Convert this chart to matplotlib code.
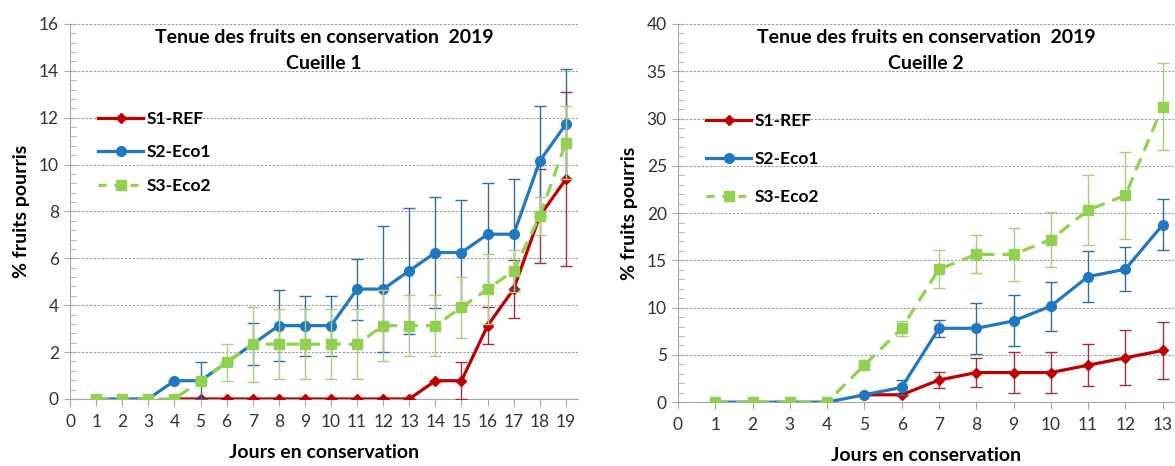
import matplotlib.pyplot as plt
import matplotlib.ticker as ticker
from matplotlib.lines import Line2D
import numpy as np

plt.rcParams['font.family'] = ['Lato', 'DejaVu Sans']

# Cueille 1
days1_s1 = list(range(4, 20))
c1_s1 = [0, 0, 0, 0, 0, 0, 0, 0, 0, 0, 0.78, 0.78, 3.13, 4.69, 7.81, 9.38]
c1_s1_err = [0, 0, 0, 0, 0, 0, 0, 0, 0, 0, 0, 0.8, 0.8, 1.25, 2.0, 3.7]
days1 = list(range(1, 20))
c1_s2 = [0, 0, 0, 0.78, 0.78, 1.56, 2.34, 3.13, 3.13, 3.13, 4.69, 4.69, 5.47,
         6.25, 6.25, 7.03, 7.03, 10.16, 11.72]
c1_s2_err = [0, 0, 0, 0, 0.78, 0, 0.9, 1.5, 1.28, 1.28, 1.3, 2.7, 2.7,
             2.35, 2.25, 2.2, 2.35, 2.35, 2.35]
c1_s3 = [0, 0, 0, 0, 0.78, 1.56, 2.34, 2.34, 2.34, 2.34, 2.34, 3.13, 3.13,
         3.13, 3.91, 4.69, 5.47, 7.81, 10.94]
c1_s3_err = [0, 0, 0, 0, 0, 0.8, 1.6, 1.5, 1.5, 1.5, 1.5, 1.5, 1.3, 1.3,
             1.3, 1.5, 0.9, 0.8, 1.56]

# Cueille 2
days2_s1 = list(range(5, 14))
c2_s1 = [0.78, 0.78, 2.34, 3.13, 3.13, 3.13, 3.91, 4.69, 5.47]
c2_s1_err = [0, 0, 0.8, 1.5, 2.2, 2.2, 2.2, 2.9, 3.0]
days2 = list(range(1, 14))
c2_s2 = [0, 0, 0, 0, 0.78, 1.56, 7.81, 7.81, 8.59, 10.16, 13.28, 14.06, 18.75]
c2_s2_err = [0, 0, 0, 0, 0, 0.8, 0.9, 2.7, 2.7, 2.6, 2.7, 2.3, 2.7]
c2_s3 = [0, 0, 0, 0, 3.91, 7.81, 14.06, 15.63, 15.63, 17.19, 20.31, 21.88, 31.25]
c2_s3_err = [0, 0, 0, 0, 0, 0.8, 2.0, 2.0, 2.8, 2.9, 3.7, 4.6, 4.6]

labels = ['S1-REF', 'S2-Eco1', 'S3-Eco2']
red = '#C00000'
blue = '#1F78C1'
green = '#92D050'


def draw(ax, xs1, s1, e1, xs, s2, e2, s3, e3, xmax, ymax, ystep, yminor, subtitle, legy, legsp):
    ax.errorbar(xs1, s1, yerr=e1, color=red, lw=2.3, marker='D', ms=5,
                ecolor='#A0303A', elinewidth=1, capsize=4, capthick=1, zorder=3)
    ax.errorbar(xs, s2, yerr=e2, color=blue, lw=2.3, marker='o', ms=7,
                ecolor='#2F6E9E', elinewidth=1, capsize=4, capthick=1, zorder=4)
    ax.errorbar(xs, s3, yerr=e3, color=green, lw=2.3, marker='s', ms=7, ls=(0, (4, 2.5)),
                ecolor='#A8CF7A', elinewidth=1, capsize=4, capthick=1, zorder=5)
    ax.set_xlim(0, xmax)
    ax.set_ylim(0, ymax)
    ax.xaxis.set_major_locator(ticker.MultipleLocator(1))
    ax.yaxis.set_major_locator(ticker.MultipleLocator(ystep))
    ax.yaxis.set_minor_locator(ticker.MultipleLocator(yminor))
    ax.grid(axis='y', which='major', color='#999999', ls=(0, (2, 1.5)), lw=0.8)
    ax.set_axisbelow(True)
    for s in ['top', 'right']:
        ax.spines[s].set_visible(False)
    for s in ['left', 'bottom']:
        ax.spines[s].set_color('#A6A6A6')
    ax.tick_params(axis='y', which='major', direction='inout', length=8, color='#A6A6A6',
                   labelsize=12.5, labelcolor='#333333', pad=4)
    ax.tick_params(axis='y', which='minor', direction='in', length=4, color='#A6A6A6')
    ax.tick_params(axis='x', which='major', direction='out', length=5, color='#A6A6A6',
                   labelsize=12.5, labelcolor='#333333', pad=6)
    ax.set_ylabel('% fruits pourris', fontsize=14, fontweight='bold', labelpad=6)
    ax.set_xlabel('Jours en conservation', fontsize=14, fontweight='bold', labelpad=10)
    ax.text(0.5, 0.965, 'Tenue des fruits en conservation  2019', transform=ax.transAxes,
            ha='center', va='center', fontsize=14, fontweight='bold')
    ax.text(0.5, 0.895, subtitle, transform=ax.transAxes,
            ha='center', va='center', fontsize=14, fontweight='bold')
    handles = [
        Line2D([], [], color=red, lw=2.3, marker='D', ms=5),
        Line2D([], [], color=blue, lw=2.3, marker='o', ms=7),
        Line2D([], [], color=green, lw=2.3, marker='s', ms=7, ls=(0, (2.5, 2.5))),
    ]
    leg = ax.legend(handles, labels, loc='upper left', bbox_to_anchor=(0.025, legy),
                    frameon=False, fontsize=12.5, handlelength=2.6, handletextpad=0.2,
                    labelspacing=legsp)
    for t in leg.get_texts():
        t.set_fontweight('bold')


fig = plt.figure(figsize=(11.75, 4.66), dpi=100)
ax1 = fig.add_axes([0.0596, 0.1438, 0.432, 0.8047])
ax2 = fig.add_axes([0.577, 0.137, 0.422, 0.8115])

draw(ax1, days1_s1, c1_s1, c1_s1_err, days1, c1_s2, c1_s2_err, c1_s3, c1_s3_err,
     19.45, 16, 2, 0.4, 'Cueille 1', 0.81, 1.0)
draw(ax2, days2_s1, c2_s1, c2_s1_err, days2, c2_s2, c2_s2_err, c2_s3, c2_s3_err,
     13.3, 40, 5, 1, 'Cueille 2', 0.805, 1.25)

fig.savefig('out.png', dpi=100)
